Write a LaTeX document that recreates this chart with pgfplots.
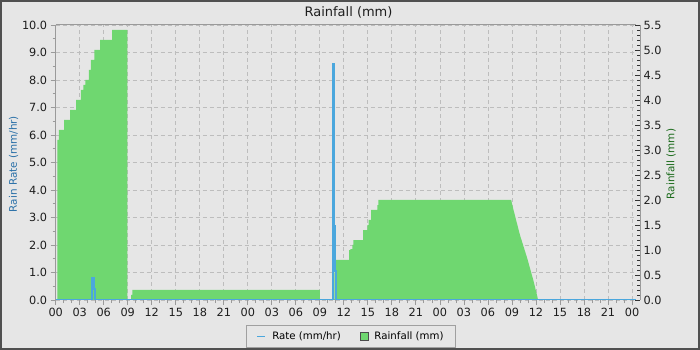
\documentclass[border=0pt]{standalone}
\usepackage{pgfplots}
\pgfplotsset{compat=1.18}
\usepackage{fontspec}
\setmainfont{DejaVu Sans}
\definecolor{bgc}{HTML}{E6E6E6}
\definecolor{framec}{HTML}{505050}
\definecolor{greenc}{HTML}{6FD770}
\definecolor{bluec}{HTML}{4BA7DD}
\definecolor{gridc}{HTML}{BDBDBD}
\definecolor{axisc}{HTML}{9A9A9A}
\definecolor{tickc}{HTML}{1E1E1E}
\definecolor{leftlab}{HTML}{2A70A8}
\definecolor{rightlab}{HTML}{1A6A1A}
\definecolor{legc}{HTML}{A0A0A0}
\begin{document}
\begin{tikzpicture}
\useasboundingbox (0pt,0pt) rectangle (700pt,350pt);
\fill[bgc] (0pt,0pt) rectangle (700pt,350pt);
\draw[framec, line width=2pt] (1pt,1pt) rectangle (699pt,349pt);
\begin{axis}[
  at={(55.7pt,50pt)}, anchor=south west,
  scale only axis, width=580.3pt, height=275pt,
  xmin=0, xmax=72.5, ymin=0, ymax=10,
  axis x line*=box, axis y line*=left,
  xtick pos=bottom, ytick pos=left,
  xtick={0,3,...,72},
  xticklabels={00,03,06,09,12,15,18,21,00,03,06,09,12,15,18,21,00,03,06,09,12,15,18,21,00},
  minor x tick num=2,
  ytick={0,1,...,10},
  minor y tick num=1,
  yticklabel style={/pgf/number format/fixed,/pgf/number format/fixed zerofill,/pgf/number format/precision=1},
  /pgf/number format/assume math mode=true,
  tick align=outside,
  major tick length=5pt, minor tick length=3pt,
  tick style={axisc, line width=0.8pt},
  axis line style={axisc, line width=1pt},
  grid=major,
  major grid style={gridc, dash pattern=on 4pt off 3pt, line width=0.8pt},
  ticklabel style={font=\fontsize{11.3}{13}\selectfont, text=tickc},
  legend style={at={(axis description cs:0.5089,-0.1327)}, anchor=center,
    legend columns=2, draw=legc, fill=bgc, font=\fontsize{10.2}{12}\selectfont,
    inner xsep=10pt, inner ysep=4.5pt,
    /tikz/every odd column/.append style={column sep=4pt},
    /tikz/every even column/.append style={column sep=17pt}},
  legend cell align=left,
]
\addlegendimage{legend image code/.code={\draw[bluec, line width=1.8pt] (0pt,0pt) -- (8pt,0pt);}}
\addlegendentry{Rate (mm/hr)}
\addlegendimage{legend image code/.code={\draw[fill=greenc, draw=black!70, line width=0.6pt] (0pt,-4pt) rectangle (8pt,4pt);}}
\addlegendentry{Rainfall (mm)}
% Rainfall (mm), plotted on the right-hand scale (0-5.5 mapped to 0-10)
\addplot[const plot, fill=greenc, draw=none, forget plot] table[x=h, y expr=\thisrow{mm}/0.55] {
h mm
0.2 3.2
0.41 3.4
1.04 3.6
1.79 3.8
2.54 4.0
3.16 4.2
3.45 4.3
3.7 4.4
4.16 4.6
4.41 4.8
4.83 5.0
5.54 5.2
7.04 5.4
8.95 0
9.41 0.1
9.58 0.2
33.0 0
34.8 0.55
35.0 0.8
36.66 1.0
36.8 1.02
37.06 1.1
37.2 1.2
38.4 1.4
38.95 1.5
39.08 1.6
39.4 1.8
40.2 1.9
40.3 2.0
56.9 2.0
} \closedcycle;
\addplot[fill=greenc, draw=none, forget plot] table[x=h, y expr=\thisrow{mm}/0.55] {
h mm
56.9 0
56.9 2.0
57.2 1.8
58.0 1.3
58.9 0.84
59.7 0.38
60.2 0.05
60.25 0
} -- cycle;
% Rain rate (mm/hr)
\addplot[const plot, bluec, line width=1.8pt, forget plot] table[x=h, y=r] {
h r
0 0
4.5 0.82
4.8 0.4
4.95 0
34.6 8.5
34.68 8.6
34.8 2.7
34.93 1.05
35.06 0
72.5 0
};
\end{axis}
\begin{axis}[
  at={(55.7pt,50pt)}, anchor=south west,
  scale only axis, width=584.3pt, height=275pt,
  xmin=0, xmax=1, ymin=0, ymax=5.5,
  axis x line=none, axis y line*=right,
  ytick={0,0.5,1,1.5,2,2.5,3,3.5,4,4.5,5,5.5},
  minor y tick num=4,
  yticklabel style={/pgf/number format/fixed,/pgf/number format/fixed zerofill,/pgf/number format/precision=1},
  /pgf/number format/assume math mode=true,
  tick align=inside,
  major tick length=5pt, minor tick length=3pt,
  tick style={black!80, line width=0.8pt},
  axis line style={axisc, line width=1pt},
  ticklabel style={font=\fontsize{11.3}{13}\selectfont, text=tickc},
]
\end{axis}
\node[rotate=90, text=leftlab, font=\fontsize{10.4}{12}\selectfont] at (13.5pt,186pt) {Rain Rate (mm/hr)};
\node[rotate=90, text=rightlab, font=\fontsize{10.4}{12}\selectfont] at (671pt,186pt) {Rainfall (mm)};
\node[text=tickc, font=\fontsize{13}{15}\selectfont] at (348.5pt,337.5pt) {Rainfall (mm)};
\end{tikzpicture}
\end{document}
